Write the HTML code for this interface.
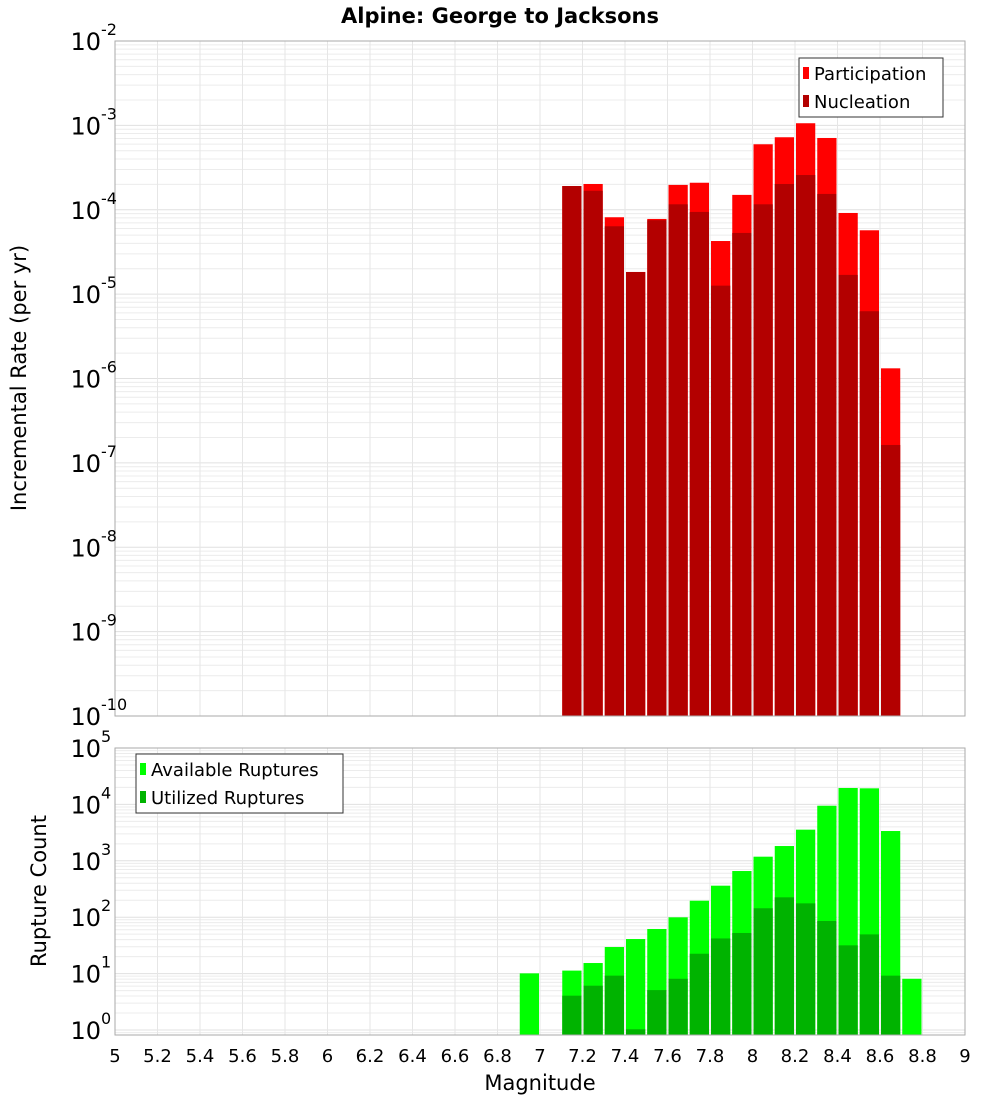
<!DOCTYPE html>
<html><head><meta charset="utf-8"><style>
body{margin:0;background:#fff;}
svg{display:block;font-family:"DejaVu Sans","Liberation Sans",sans-serif;}
</style></head><body>
<svg id="c" width="1000" height="1100" xmlns="http://www.w3.org/2000/svg">
<text x="500" y="23" text-anchor="middle" font-size="21" font-weight="bold">Alpine: George to Jacksons</text>
</svg>
<script>
const topMags = [7.15,7.25,7.35,7.45,7.55,7.65,7.75,7.85,7.95,8.05,8.15,8.25,8.35,8.45,8.55,8.65];
const participation = [1.91e-4,2.02e-4,8.15e-5,1.83e-5,7.78e-5,1.97e-4,2.09e-4,4.26e-5,1.50e-4,5.97e-4,7.23e-4,1.06e-3,7.09e-4,9.16e-5,5.71e-5,1.32e-6];
const nucleation = [1.91e-4,1.68e-4,6.37e-5,1.83e-5,7.52e-5,1.16e-4,9.42e-5,1.26e-5,5.31e-5,1.16e-4,2.02e-4,2.58e-4,1.54e-4,1.69e-5,6.27e-6,1.63e-7];
const botMags = [6.95,7.15,7.25,7.35,7.45,7.55,7.65,7.75,7.85,7.95,8.05,8.15,8.25,8.35,8.45,8.55,8.65,8.75];
const available = [10.1,11.3,15.4,29.6,41,61.8,99.5,196,362,659,1183,1828,3565,9480,19540,19280,3373,8.1];
const utilized = [0,4.06,6.1,9.2,1.03,5.1,8.1,22.5,42,52.5,144,225,176,85.7,31.7,49.6,9.2,0];
const xTicks = [5,5.2,5.4,5.6,5.8,6,6.2,6.4,6.6,6.8,7,7.2,7.4,7.6,7.8,8,8.2,8.4,8.6,8.8,9];
const topExp = [-2,-3,-4,-5,-6,-7,-8,-9,-10];
const botExp = [5,4,3,2,1,0];

const NS="http://www.w3.org/2000/svg";
const svg=document.getElementById('c');
function mk(tag,attrs,parent){const e=document.createElementNS(NS,tag);for(const k in attrs)e.setAttribute(k,attrs[k]);(parent||svg).appendChild(e);return e;}
const X0=115,X1=965;
const xs=m=>X0+(m-5)/4*(X1-X0);
const yTop=v=>41+(-2-Math.log10(v))*84.375;
const yBot=v=>748+(5-Math.log10(v))*56.4;
const panels=[{y0:41,y1:716,ymap:yTop,lo:-10,hi:-2},{y0:748,y1:1035,ymap:yBot,lo:-1,hi:5}];
panels.forEach((p,pi)=>{
  const g=mk('g',{});
  
  
  for(let e=p.lo;e<p.hi;e++)for(let k=1;k<10;k++){const y=p.ymap(k*Math.pow(10,e));if(y>=p.y0&&y<=p.y1)mk('line',{x1:X0,x2:X1,y1:y,y2:y,stroke:k==1?'#e0e0e0':'#ececec','stroke-width':1},g);}
  xTicks.forEach(t=>{const x=xs(t);mk('line',{x1:x,x2:x,y1:p.y0,y2:p.y1,stroke:'#e6e6e6','stroke-width':1},g);});
});
function bars(mags,vals,ymap,base,color,name){
  mags.forEach((m,i)=>{const v=vals[i];if(!v)return;const y=ymap(v);
    const r=mk('rect',{x:xs(m-0.05)+1,y:y,width:xs(m+0.05)-xs(m-0.05)-2,height:base-y,fill:color});
    
    });
}
bars(topMags,participation,yTop,716,'#ff0000','participation');
bars(topMags,nucleation,yTop,716,'#b30000','nucleation');
bars(botMags,available,yBot,1035,'#00ff00','available');
bars(botMags,utilized,yBot,1035,'#00b300','utilized');
panels.forEach((p,pi)=>{const r=mk('rect',{x:X0,y:p.y0,width:X1-X0,height:p.y1-p.y0,fill:'none',stroke:'#aaa','stroke-width':1});
  
  });
function ylabel(exp,y,name){
  const t=mk('text',{x:101,y:y+9,'text-anchor':'end','font-size':24,fill:'#000'});
  
  
  t.textContent='10';
  const s=mk('text',{x:101,y:y-6,'font-size':16,fill:'#000'});
  
  
  s.textContent=String(exp);
}
topExp.forEach(e=>ylabel(e,yTop(Math.pow(10,e)),'upper-y-tick'));
botExp.forEach(e=>ylabel(e,yBot(Math.pow(10,e)),'lower-y-tick'));
xTicks.forEach(t=>{const tx=mk('text',{x:xs(t),y:1062,'text-anchor':'middle','font-size':18});
  
  
  tx.textContent=String(t);});
function legend(x,y,w,h,items,name){
  const g=mk('g',{});
  
  
  mk('rect',{x:x,y:y,width:w,height:h,fill:'#fff',stroke:'#333','stroke-width':1},g);
  items.forEach((it,i)=>{const cy=y+15+i*28;
    mk('rect',{x:x+4,y:cy-6,width:6,height:12,fill:it[1]},g);
    const t=mk('text',{x:x+15,y:cy+7,'font-size':18},g);
    
    
    t.textContent=it[0];});
}
legend(799,58,144,59,[['Participation','#ff0000'],['Nucleation','#b30000']],'upper-legend');
legend(136,754,207,59,[['Available Ruptures','#00ff00'],['Utilized Ruptures','#00b300']],'lower-legend');
</script>
<svg style="position:absolute;left:0;top:0" width="1000" height="1100" xmlns="http://www.w3.org/2000/svg" font-family="DejaVu Sans, Liberation Sans, sans-serif">
<text x="540" y="1090" text-anchor="middle" font-size="21">Magnitude</text>
<text transform="translate(26,378) rotate(-90)" text-anchor="middle" font-size="21">Incremental Rate (per yr)</text>
<text transform="translate(46,891) rotate(-90)" text-anchor="middle" font-size="21">Rupture Count</text>
</svg>
</body></html>
